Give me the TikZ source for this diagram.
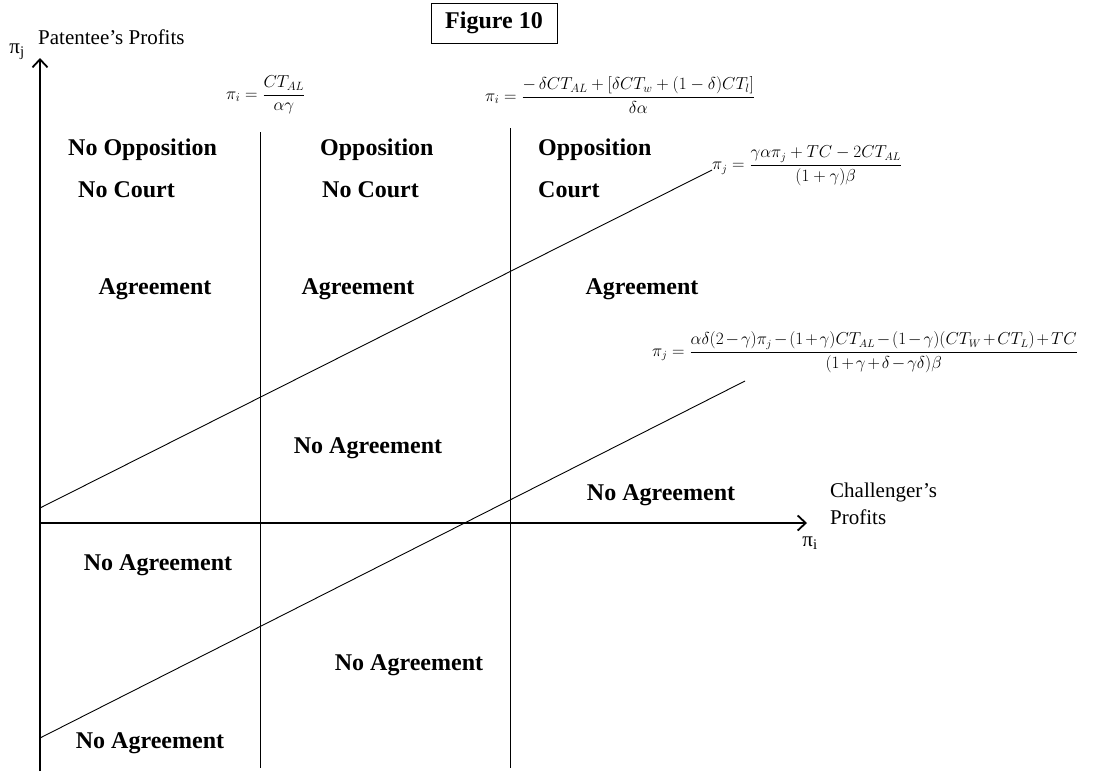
\documentclass[tikz,border=0pt]{standalone}
\usepackage{fontspec}
\setmainfont{Liberation Serif}
\usetikzlibrary{arrows.meta}

\tikzset{
  region/.style={font=\bfseries\fontsize{24}{28}\selectfont, inner sep=0pt},
  axislabel/.style={font=\fontsize{21}{25}\selectfont, inner sep=0pt},
  formula/.style={font=\fontsize{16}{19}\selectfont, inner sep=0pt, anchor=west},
  bigformula/.style={formula, font=\fontsize{17}{20}\selectfont},
  axis/.style={black, line width=1.8pt},
  border/.style={black, line width=0.9pt},
}

\begin{document}
\begin{tikzpicture}[x=1pt,y=-1pt]
        \useasboundingbox (0,0) rectangle (1094,771);
        % axes
        \coordinate (ybot) at (40,771);
        \coordinate (ytop) at (40,58);
        \coordinate (xleft) at (40,523);
        \coordinate (xright) at (807,523);
        \draw[axis,-{Straight Barb[length=8pt,width=15pt]}] (ybot) -- (ytop);
        \draw[axis,-{Straight Barb[length=8pt,width=15pt]}] (xleft) -- (xright);
        % borders
        \coordinate (vonetop) at (260,132);
        \coordinate (vonebot) at (260,768);
        \coordinate (vtwotop) at (510,128);
        \coordinate (vtwobot) at (510,768);
        \coordinate (upone) at (40,508);
        \coordinate (uptwo) at (712,170);
        \coordinate (lowone) at (40,738);
        \coordinate (lowtwo) at (745,381);
        \draw[border] (vonetop) -- (vonebot);
        \draw[border] (vtwotop) -- (vtwobot);
        \draw[border] (upone) -- (uptwo);
        \draw[border] (lowone) -- (lowtwo);
        % title and axis labels
        \node[region, draw, line width=1pt, minimum width=126pt, minimum height=40pt] (title) at (494,23) {Figure 10};
        \node[axislabel] (piy) at (17,52) {π\textsubscript{j}};
        \node[axislabel, anchor=west] (ylab) at (38,37) {Patentee’s Profits};
        \node[axislabel, anchor=west] (xlabone) at (830,492) {Challenger’s};
        \node[axislabel, anchor=west] (xlabtwo) at (830,517) {Profits};
        \node[axislabel] (pix) at (810,543) {π\textsubscript{i}};
        % regions
        \node[region, anchor=west] (noopp) at (68,150) {No Opposition};
        \node[region, anchor=west] (nocourtone) at (78,190) {No Court};
        \node[region, anchor=west] (oppone) at (320,150) {Opposition};
        \node[region, anchor=west] (nocourttwo) at (322,190) {No Court};
        \node[region, anchor=west] (opptwo) at (538,150) {Opposition};
        \node[region, anchor=west] (court) at (538,190) {Court};
        \node[region] (agrone) at (155,289) {Agreement};
        \node[region] (agrtwo) at (358,289) {Agreement};
        \node[region] (agrthree) at (642,289) {Agreement};
        \node[region] (noagrone) at (368,448) {No Agreement};
        \node[region] (noagrtwo) at (661,495) {No Agreement};
        \node[region] (noagrthree) at (158,565) {No Agreement};
        \node[region] (noagrfour) at (409,665) {No Agreement};
        \node[region] (noagrfive) at (150,743) {No Agreement};
        % boundaries
        \node[bigformula] (fone) at (226,95) {$\displaystyle \pi_i = \frac{CT_{AL}}{\alpha\gamma}$};
        \node[bigformula] (ftwo) at (485,95) {$\displaystyle \pi_i = \frac{-\,\delta CT_{AL} + [\delta CT_w + (1-\delta)CT_l]}{\delta\alpha}$};
        \node[formula] (fthree) at (712,166) {$\displaystyle \pi_j = \frac{\gamma\alpha\pi_j + TC - 2CT_{AL}}{(1+\gamma)\beta}$};
        \node[formula] (ffour) at (652,352) {$\medmuskip=2mu\displaystyle \pi_j = \frac{\alpha\delta(2-\gamma)\pi_j - (1+\gamma)CT_{AL} - (1-\gamma)(CT_W + CT_L) + TC}{(1+\gamma+\delta-\gamma\delta)\beta}$};
\end{tikzpicture}
\end{document}
